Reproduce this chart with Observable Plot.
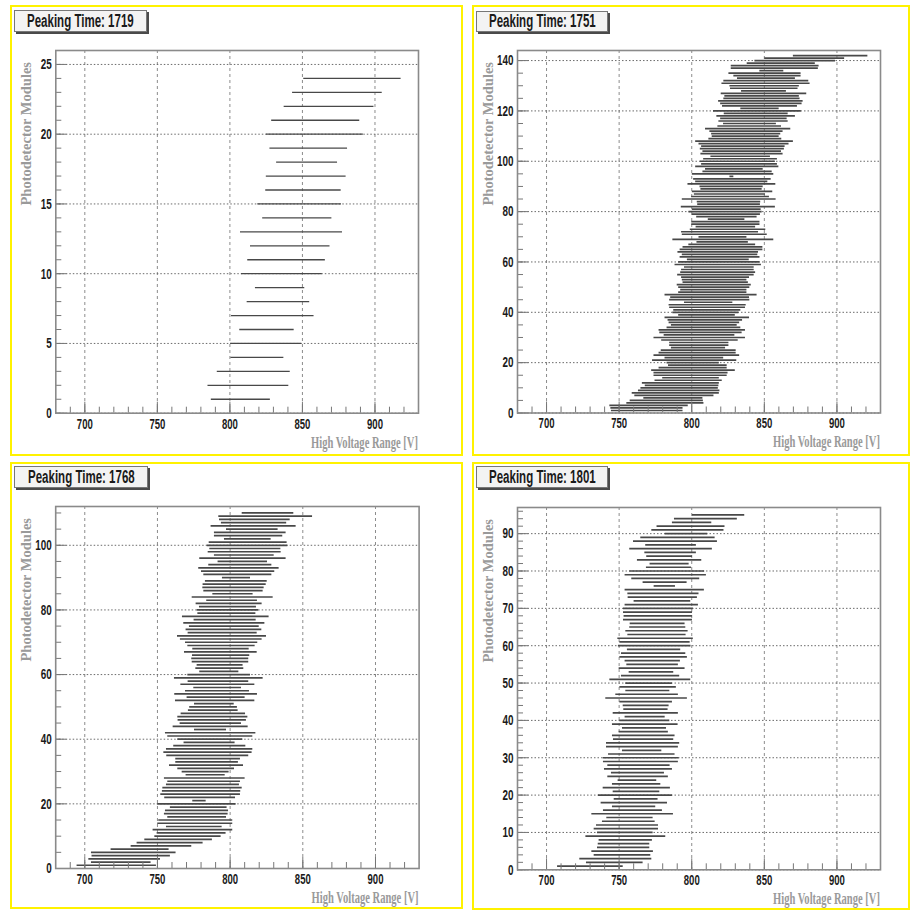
<!DOCTYPE html>
<html><head><meta charset="utf-8">
<script src="https://cdn.jsdelivr.net/npm/d3@7"></script>
<script src="https://cdn.jsdelivr.net/npm/@observablehq/plot@0.6"></script>
<style>
html,body{margin:0;padding:0;background:#fff}
body{width:910px;height:911px;position:relative;overflow:hidden;font-family:"Liberation Sans",Arial,sans-serif}
.holder{position:absolute}
.holder svg{position:absolute;left:0;top:0}
.ybox{position:absolute;box-sizing:border-box;border:2px solid #fff200;pointer-events:none}
.title{position:absolute;box-sizing:border-box;background:#f3f3f3;border:1px solid #777;box-shadow:2px 2px 0 #4a4a4a;display:flex;align-items:center;justify-content:center;overflow:visible;white-space:nowrap}
.title span{display:inline-block;font-weight:bold;font-size:18px;color:#1a1a1a;transform:scaleX(0.64);transform-origin:center}
</style>
</head><body>
<script>
// ---------- data ----------
const xMajorTicks = [700, 750, 800, 850, 900];
const xAxisTitle = "High Voltage Range [V]";
const yAxisTitle = "Photodetector Modules";
const peakingTimes = [1719, 1751, 1768, 1801];

// Peaking time 1719: modules 1..24 (low / high edge of HV range)
const p1Low  = [787.2, 784.9, 791.3, 800.7, 800.5, 806.8, 801.1, 811.9, 817.6, 808.0, 812.3, 814.2, 807.3, 822.6, 819.2, 824.7, 825.1, 832.2, 827.6, 825.1, 828.8, 837.4, 843.2, 850.9];
const p1High = [827.9, 840.6, 841.6, 837.2, 849.5, 844.3, 858.0, 855.0, 851.6, 863.7, 865.8, 869.0, 877.6, 870.3, 876.9, 876.7, 880.1, 874.2, 881.1, 892.0, 889.5, 899.3, 905.0, 918.0];

// Peaking time 1751: modules 1..142
const p2Low = [744.7, 744.3, 743.6, 755.3, 757.6, 767, 760.8, 759, 763.3, 765,
  768, 766, 774.7, 780, 774, 774, 772.4, 777.5, 784, 783,
  773, 781.6, 774, 777.5, 779, 786, 784.8, 784.8, 779.3, 774,
  781, 778, 777.5, 783, 786, 784.4, 783.7, 781.6, 791, 787,
  787.6, 784.8, 784.4, 795, 784.8, 785.5, 781.6, 791, 792.4, 791,
  790, 794, 793.5, 793, 790.3, 792.4, 793, 795, 788.5, 791,
  797, 792, 793.5, 790.5, 792, 794, 798, 803.6, 787, 805,
  793.5, 793, 799, 803, 800, 800, 811.4, 803.4, 800.4, 798.1,
  800.4, 792.8, 804.1, 803.8, 793.5, 799.9, 801.8, 800.4, 806.3, 805.7,
  797.4, 802.7, 801.3, 826.3, 800.4, 807.7, 809.5, 802.7, 806.8, 805.9,
  808.2, 813.2, 806.3, 807.7, 805.9, 806.8, 805, 802.7, 811.8, 814.1,
  813.7, 812.5, 809.5, 818, 821.9, 818.7, 819.9, 817.3, 822.4, 815,
  833.8, 821.2, 819.9, 818.5, 822.1, 822.8, 820.3, 834.3, 826.7, 826.3,
  820.8, 822.1, 831.5, 829, 825.6, 846.9, 827.2, 827.2, 838.2, 843.5,
  850.3, 870];
const p2High = [794, 794, 797.6, 808.4, 808, 807.7, 815.3, 819, 819.4, 818.3,
  818.7, 819, 821, 819, 824.4, 825, 830, 824.4, 824.4, 819,
  831, 822, 833, 830.6, 830.6, 823.3, 825.6, 825.6, 832, 837,
  829.7, 834.7, 837, 833.8, 831.3, 833, 835, 839.8, 830, 832.5,
  833.8, 837, 837.5, 828.3, 840, 839.8, 845, 838, 838, 840,
  841, 839, 838, 839.8, 843, 844, 843, 843, 848, 847,
  839.6, 847, 845.5, 846, 849, 849, 844, 839, 856.5, 838,
  852, 846, 851, 844, 847, 847, 836.6, 845, 847.3, 848.5,
  847.8, 857.6, 847.3, 847.5, 858.1, 853.5, 850.8, 855.8, 848.5, 849.2,
  857.9, 852.4, 854.7, 829, 856.5, 855.4, 849.2, 860, 859, 857.6,
  859, 854.2, 862.9, 861.8, 863.8, 864.3, 867, 870, 862, 860.2,
  861.3, 862.9, 868.2, 861.8, 858.3, 866.4, 865.7, 871.4, 866.4, 875.5,
  860.2, 872.8, 876, 876.7, 874.6, 874.1, 879.2, 865.2, 873.2, 874.1,
  881.5, 880.6, 871.4, 875.3, 875.3, 863.4, 887.2, 887.7, 885.1, 899,
  905.3, 921.3];

// Peaking time 1768: modules 1..110
const p3Low = [694.7, 704.6, 702.8, 705, 704.6, 718.1, 731.9, 736, 741.3, 748.2,
  749.8, 747, 756.2, 750.2, 750.9, 757.1, 754.8, 755.5, 758.9, 750.2,
  774.3, 755, 752.3, 753.4, 753.7, 756.2, 757.1, 754.8, 769.7, 767,
  764, 758.3, 762.6, 762.6, 756.4, 754.4, 756.2, 761.2, 768.3, 764,
  757.1, 755.5, 775.5, 760.8, 765.6, 764.2, 764, 766.3, 771.3, 772.2,
  775.5, 762.4, 770.4, 761.9, 769.3, 775, 766.1, 771.1, 761.7, 770.9,
  779.1, 776.4, 777.3, 773.9, 773.6, 774.1, 768.6, 774.3, 770.9, 769.3,
  765.8, 763.8, 771.1, 769.7, 772, 768.1, 775.2, 767.2, 777.8, 777.3,
  778.9, 776.6, 783.9, 773.9, 788.1, 781.9, 781.2, 781.4, 783, 794.7,
  781.9, 780.3, 778.4, 785.3, 791.7, 779.1, 789.2, 784.9, 786, 784.2,
  785.6, 796.1, 789.2, 789.2, 797.5, 786.9, 794, 792.7, 792.2, 808.3];
const p3High = [749.3, 745.6, 752.1, 758.9, 762.8, 758, 773.6, 781.4, 787.8, 793.8,
  797.2, 801.8, 794.5, 801.8, 801.8, 797.5, 798.6, 798.9, 797.9, 804.1,
  783.5, 803.7, 807.1, 807.3, 808.3, 806.4, 807.1, 810.3, 796.6, 799.3,
  803, 809.2, 805.7, 807.1, 812.8, 815.1, 815.6, 810.8, 803.4, 808.7,
  815.6, 817.7, 797.5, 812.4, 807.8, 811.2, 812.2, 810.6, 805.5, 805,
  802.8, 817, 810.3, 818.8, 813.3, 807.8, 817, 812.8, 822.7, 814,
  806, 809.4, 808.9, 812.8, 812.8, 813.5, 818.6, 813.1, 817.2, 819,
  822, 825, 818.6, 821.8, 820, 823.9, 817.9, 826.8, 817.7, 819.7,
  818.1, 822, 818.8, 829.6, 815.8, 822.7, 823.4, 824.8, 825.5, 814,
  828.7, 830.7, 833.7, 828.7, 825.7, 838.5, 830.3, 835.1, 834.9, 839.7,
  839.2, 828.2, 836.2, 838.5, 833, 845.4, 838.9, 841.3, 856.7, 843.8];

// Peaking time 1801: modules 1..95
const p4Low = [707.6, 727.5, 722.9, 732.8, 731.2, 735.1, 735.6, 736.2, 727.1, 735.1,
  732.8, 734.4, 738.5, 741.5, 731.2, 739.2, 745.4, 737.6, 746.6, 735.8,
  745.9, 739, 745.4, 749.3, 742.2, 744.7, 739.9, 742.2, 739.2, 739,
  742.7, 752.3, 741.3, 741.3, 746.1, 745.4, 750, 752.3, 745.4, 750.5,
  754.1, 745.9, 753.2, 752.8, 750.5, 740.8, 747.7, 754.6, 750.5, 754.6,
  743.6, 751.6, 756.9, 750, 755.3, 754.1, 750.5, 751.6, 755.7, 749.5,
  750.5, 749.1, 756, 754.6, 757.3, 757.6, 753, 753.4, 753, 753,
  754.1, 760.3, 756.2, 756, 754.1, 774.1, 766.5, 758.7, 754.1, 757.3,
  768.8, 771.3, 762.6, 769, 767.7, 757.3, 768.3, 759.9, 764.9, 781.7,
  772.5, 776.1, 786.7, 788.1, 800.5];
const p4High = [752.8, 766.5, 772.5, 771.8, 773.6, 771.1, 771.1, 772.9, 782.1, 773.4,
  777.1, 777.1, 774.8, 773.4, 787.4, 779.8, 775.2, 783.3, 776.8, 786.7,
  778, 785.3, 778.7, 775.9, 783.9, 781.2, 786.7, 785.1, 790.8, 791.3,
  788.5, 779.4, 790.8, 791.7, 787.6, 788.5, 783.9, 782.6, 790.6, 784.9,
  781.7, 790.8, 783.7, 784.4, 786.7, 797, 790.8, 784.9, 789.4, 786.7,
  799.3, 791.7, 787.6, 795.4, 790.8, 792.2, 797, 795.9, 792.4, 799.5,
  798.9, 801.1, 796.1, 797.5, 795.9, 795.4, 800.5, 800.5, 800.5, 801.1,
  804.6, 799.3, 803.9, 805, 808.7, 788.8, 796.8, 805.5, 810.1, 808.9,
  799.8, 798.2, 806.9, 800.5, 803.2, 814.2, 803.2, 817.7, 816.1, 811,
  822.2, 822.9, 813.8, 831.4, 836.5];

const p1YTicks = [0, 5, 10, 15, 20, 25];
const p2YTicks = [0, 20, 40, 60, 80, 100, 120, 140];
const p3YTicks = [0, 20, 40, 60, 80, 100];
const p4YTicks = [0, 10, 20, 30, 40, 50, 60, 70, 80, 90];

// ---------- layout ----------
const panels = [
  {time: peakingTimes[0], low: p1Low, high: p1High, yMax: 26, yTicks: p1YTicks, yMinorStep: 1, sw: 1.3,
   box: {x: 10, y: 5, w: 453, h: 451}, frame: {l: 55.3, r: 418, t: 50, b: 412.7},
   title: {x: 14, y: 10, w: 133, h: 22}},
  {time: peakingTimes[1], low: p2Low, high: p2High, yMax: 144, yTicks: p2YTicks, yMinorStep: 5, sw: 1.7,
   box: {x: 472, y: 5, w: 438, h: 451}, frame: {l: 517, r: 880, t: 50, b: 412.5},
   title: {x: 476, y: 11, w: 132, h: 21}},
  {time: peakingTimes[2], low: p3Low, high: p3High, yMax: 112, yTicks: p3YTicks, yMinorStep: 5, sw: 1.7,
   box: {x: 10, y: 462, w: 453, h: 447}, frame: {l: 55.2, r: 418.6, t: 506, b: 868},
   title: {x: 14, y: 466, w: 134, h: 22}},
  {time: peakingTimes[3], low: p4Low, high: p4High, yMax: 97, yTicks: p4YTicks, yMinorStep: 2, sw: 1.7,
   box: {x: 472, y: 462, w: 438, h: 448}, frame: {l: 517, r: 880, t: 507, b: 869.3},
   title: {x: 476, y: 466, w: 132, h: 22}}
];

const K = 0.66; // horizontal condensation of the reference text

// condense a text horizontally about its anchor point
function squish(t, k) {
  const bb = t.getBBox();
  if (!bb.width) return;
  const anchor = t.getAttribute("text-anchor") || getComputedStyle(t).textAnchor || "start";
  const ax = anchor === "end" ? bb.x + bb.width : anchor === "middle" ? bb.x + bb.width / 2 : bb.x;
  const tr = t.getAttribute("transform") || "";
  t.setAttribute("transform", `${tr} translate(${ax.toFixed(2)},0) scale(${k},1) translate(${(-ax).toFixed(2)},0)`.trim());
}

for (const p of panels) {
  const {box, frame} = p;
  const mL = frame.l - box.x, mR = box.x + box.w - frame.r;
  const mT = frame.t - box.y, mB = box.y + box.h - frame.b;
  const fW = frame.r - frame.l, fH = frame.b - frame.t;
  const rows = p.low.map((lo, i) => ({module: i + 1, lo, hi: p.high[i]}));
  const xMinor = d3.range(690, 930, 10);
  const yMinor = d3.range(0, p.yMax + 0.001, p.yMinorStep);

  const svg = Plot.plot({
    width: box.w, height: box.h,
    marginLeft: mL, marginRight: mR, marginTop: mT, marginBottom: mB,
    style: {background: "transparent", fontFamily: "'Liberation Sans', Arial, sans-serif", overflow: "visible"},
    x: {domain: [680, 930]},
    y: {domain: [0, p.yMax]},
    marks: [
      Plot.ruleX(xMajorTicks, {stroke: "#8c8c8c", strokeDasharray: "3,3", strokeWidth: 1}),
      Plot.ruleY(p.yTicks, {stroke: "#6a6a6a", strokeDasharray: "1.5,2", strokeWidth: 1}),
      Plot.ruleY(rows, {y: "module", x1: "lo", x2: "hi", stroke: "#484848", strokeWidth: p.sw}),
      Plot.tickX(xMinor, {x: d => d, insetTop: fH - 6, stroke: "#777", strokeWidth: 1}),
      Plot.tickX(xMajorTicks, {x: d => d, insetTop: fH - 11, stroke: "#777", strokeWidth: 1}),
      Plot.tickY(yMinor, {y: d => d, insetRight: fW - 6, stroke: "#777", strokeWidth: 1}),
      Plot.tickY(p.yTicks, {y: d => d, insetRight: fW - 11, stroke: "#777", strokeWidth: 1}),
      Plot.frame({stroke: "#8a8a8a", strokeWidth: 1.6}),
      Plot.axisX(xMajorTicks, {tickSize: 0, tickPadding: 5, label: null, fontSize: 14.5, fontWeight: "bold", fill: "#1a1a1a", tickFormat: d => String(d)}),
      Plot.axisY(p.yTicks, {tickSize: 0, tickPadding: 4, label: null, fontSize: 15, fontWeight: "bold", fill: "#1a1a1a", tickFormat: d => String(d)})
    ]
  });

  const holder = document.createElement("div");
  holder.className = "holder";
  holder.style.left = box.x + "px"; holder.style.top = box.y + "px";
  holder.style.width = box.w + "px"; holder.style.height = box.h + "px";
  holder.appendChild(svg);
  document.body.appendChild(holder);

  svg.querySelectorAll("text").forEach(t => squish(t, K));

  const s = d3.select(svg);
  const xt = s.append("text")
    .attr("x", box.w - mR).attr("y", box.h - mB + 35)
    .attr("text-anchor", "end")
    .attr("font-family", "'Liberation Serif', 'Times New Roman', serif")
    .attr("font-weight", "bold").attr("font-size", 16).attr("fill", "#9a9a9a")
    .text(xAxisTitle);
  squish(xt.node(), 0.66);

  s.append("text")
    .attr("transform", `translate(${mL - 24},${mT + 12}) rotate(-90)`)
    .attr("text-anchor", "end")
    .attr("font-family", "'Liberation Serif', 'Times New Roman', serif")
    .attr("font-weight", "bold").attr("font-size", 14.5).attr("fill", "#9a9a9a")
    .text(yAxisTitle);

  const yb = document.createElement("div");
  yb.className = "ybox";
  yb.style.left = box.x + "px"; yb.style.top = box.y + "px";
  yb.style.width = box.w + "px"; yb.style.height = box.h + "px";
  document.body.appendChild(yb);

  const tb = document.createElement("div");
  tb.className = "title";
  tb.style.left = p.title.x + "px"; tb.style.top = p.title.y + "px";
  tb.style.width = p.title.w + "px"; tb.style.height = p.title.h + "px";
  const sp = document.createElement("span");
  sp.textContent = "Peaking Time: " + p.time;
  tb.appendChild(sp);
  document.body.appendChild(tb);
}
</script>
</body></html>
